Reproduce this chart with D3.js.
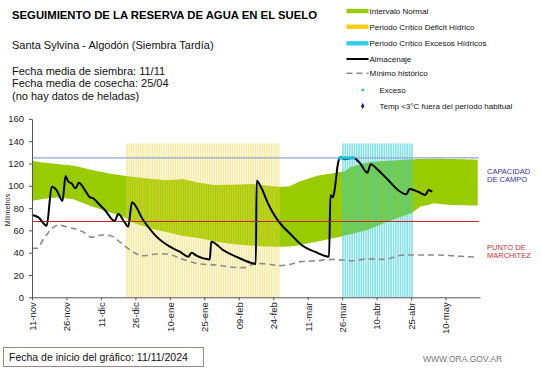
<!DOCTYPE html>
<html><head><meta charset="utf-8">
<script src="https://cdn.jsdelivr.net/npm/d3@7"></script>
<style>
body{margin:0;background:#fff;}
svg{display:block;font-family:"Liberation Sans",Arial,sans-serif;}
</style></head>
<body><svg id="c" width="541" height="368"></svg>
<script>
// ---------- DATA ----------
const tickDays   = [0,15,30,45,60,75,90,105,120,135,150,165,180];
const tickLabels = ["11-nov","26-nov","11-dic","26-dic","10-ene","25-ene","09-feb","24-feb","11-mar","26-mar","10-abr","25-abr","10-may"];
const yTicks = [0,20,40,60,80,100,120,140,160];

const capacidadCampo = 125;
const puntoMarchitez = 68;
const stripeTop = 138;

// Intervalo normal (upper / lower)
const upperDays = [0,4,11,19,26,33,40,50,58,66,72,79,88,96,104,108,112,117,124,131,136,139,146,153,160,168,175,183,194];
const upperVals = [122.3,121,119.5,117.8,114.2,111.2,109,106.5,105,106,103,100.7,101,101.6,99.8,99,99.5,104.3,109,111.2,113,117,121,122.2,123.1,124,124.3,124,123.4];
const lowerDays = [0,6,11,18,26,33,40,44,51,58,66,73,80,87,95,102,108,112,117,124,131,139,146,153,160,165,169,175,182,194];
const lowerVals = [86.5,88.5,89.5,88,81.5,77,72,67,62,58.8,55,52.9,49.9,47.8,46.3,45.5,45.4,45.5,46.9,49.9,52.9,56.8,60.4,66.4,71.7,75.3,81.3,84.3,82.8,82.2];

// Minimo historico
const minDays = [0,2,5.7,11.4,15.8,22,26,30.3,34.6,38,40.4,43.3,48.4,54,58.5,65.8,73,80,87.5,92,97.7,102,108,113,117,124,131.7,139,146,153.5,160.7,168,175,182.5,190,194];
const minVals = [44,44,54.4,64.8,62.8,58.9,53.8,55.9,55,50,46,41.5,37.3,38.8,38.8,34,29.9,29,26.9,26.6,30.5,29.9,28.4,29.9,32,32.8,34,32.8,34.4,34,37.7,38,38,37.3,36.4,35.9];

// Almacenaje
const almDays = [0,2.8,6.4,8.6,10.7,13.3,14.6,15.8,17.2,19,20.4,23,25.2,26.7,28.8,31.7,36,37.5,40.4,41.9,43.5,48.4,54.2,60,64.3,68,69.4,71.6,77.4,78,83.2,90.4,96,97.4,97.8,99.9,102.7,106.4,109.3,112.9,117.3,123,129.3,129.9,131,131.7,133.2,134.3,136,139.7,142.6,146,147.4,150.6,155,159.3,163,164.3,168,171.2,172.6,174.2];
const almVals = [73.8,71.7,64.2,99.2,96.2,86.6,108.8,103.7,102.2,97.7,102.8,96.2,89.7,88.8,84.3,78.3,68.4,74.7,66.9,63.3,85.3,69.3,54.4,45.4,40.9,36.4,40,37.3,34,49.9,42.4,35,30.5,29.9,104.6,97.8,84.3,70.8,63.3,55.9,46.9,40.9,36.4,91.7,89.7,96.2,120.2,125.5,123.8,125.2,120.7,111.8,119.3,114.2,105.2,96.2,92.4,97.1,94.7,91.7,96.2,94.7];

// Exceso points
const excesoDays = [134,135,136,137,138,139,140];
const excesoVals = [125,125,125,125,125,125,125];

// Periodos criticos (days)
const deficitDays = d3.range(41,108);
const excesoPerDays = d3.range(135,166);

const legendItems = ["Intervalo Normal","Periodo Crítico Déficit Hídrico","Periodo Crítico Excesos Hídricos","Almacenaje","Mínimo histórico","Exceso","Temp <3°C fuera del período habitual"];

// ---------- DRAW ----------
const svg = d3.select("#c");
const x = d3.scaleLinear().domain([0,195]).range([32,480]);
const y = d3.scaleLinear().domain([0,160]).range([297.3,118.9]);

const toPts = (ds,vs)=>ds.map((d,i)=>[d,vs[i]]);

// green band
const lowerInterp = d3.scaleLinear().domain(lowerDays).range(lowerVals);
const upperInterp = d3.scaleLinear().domain(upperDays).range(upperVals);
const bandDays = d3.range(0,194.5,0.5).concat([194]);
svg.append("path")
  .attr("d", d3.area().x(d=>x(d)).y0(d=>y(lowerInterp(d))).y1(d=>y(upperInterp(d))).curve(d3.curveMonotoneX)(bandDays))
  .attr("fill","#99cc00");

// stripes
const bw = 1.6;
svg.append("g").selectAll("rect").data(deficitDays).join("rect")
  .attr("x",d=>x(d)).attr("width",bw)
  .attr("y",y(stripeTop)).attr("height",y(0)-y(stripeTop))
  .attr("fill","#f0d84a").attr("opacity",0.5);
svg.append("g").selectAll("rect").data(excesoPerDays).join("rect")
  .attr("x",d=>x(d)).attr("width",bw)
  .attr("y",y(stripeTop)).attr("height",y(0)-y(stripeTop))
  .attr("fill","#33ccdd").attr("opacity",0.6);

// reference lines
svg.append("line").attr("x1",x(0)).attr("x2",x(194.5)).attr("y1",y(capacidadCampo)).attr("y2",y(capacidadCampo))
  .attr("stroke","#8fa8d0").attr("stroke-width",1.2);
svg.append("line").attr("x1",x(0)).attr("x2",x(194.5)).attr("y1",y(puntoMarchitez)).attr("y2",y(puntoMarchitez))
  .attr("stroke","#cc2222").attr("stroke-width",1);

// min historico
svg.append("path")
  .attr("d", d3.line().x(d=>x(d[0])).y(d=>y(d[1])).curve(d3.curveMonotoneX)(toPts(minDays,minVals)))
  .attr("fill","none").attr("stroke","#8c8c8c").attr("stroke-width",1.6).attr("stroke-dasharray","6,4");

// almacenaje
svg.append("path")
  .attr("d", d3.line().x(d=>x(d[0])).y(d=>y(d[1])).curve(d3.curveMonotoneX)(toPts(almDays,almVals)))
  .attr("fill","none").attr("stroke","#000").attr("stroke-width",2).attr("stroke-linejoin","round");

// exceso points
svg.append("g").selectAll("circle").data(toPts(excesoDays,excesoVals)).join("circle")
  .attr("cx",d=>x(d[0])).attr("cy",d=>y(d[1])).attr("r",1.8).attr("fill","#22bbdd");

// axes
const yAxis = svg.append("g").attr("transform",`translate(${x(0)},0)`)
  .call(d3.axisLeft(y).tickValues(yTicks).tickSize(3).tickPadding(5).tickSizeOuter(0));
yAxis.select(".domain").attr("stroke","#555");
yAxis.selectAll(".tick line").attr("stroke","#555");
yAxis.selectAll("text").attr("font-size","9.5px").attr("fill","#222").style("font-family","Liberation Sans, Arial");

const xAxis = svg.append("g").attr("transform",`translate(0,${y(0)})`)
  .call(d3.axisBottom(x).tickValues(tickDays).tickFormat((d,i)=>tickLabels[i]).tickSize(3).tickSizeOuter(0));
xAxis.select(".domain").attr("stroke","#555");
xAxis.selectAll(".tick line").attr("stroke","#555");
xAxis.selectAll("text").attr("font-size","9.5px").attr("fill","#222").style("font-family","Liberation Sans, Arial")
  .attr("text-anchor","end").attr("transform","rotate(-90)").attr("x",-5).attr("y",0).attr("dy","0.35em");

// y label
svg.append("text").attr("transform","translate(10,210) rotate(-90)").attr("text-anchor","middle")
  .attr("font-size","7px").attr("fill","#222").text("Milímetros");

// titles
svg.append("text").attr("x",12).attr("y",18.5).attr("font-size","10.5px").attr("font-weight","bold")
  .attr("textLength",305).attr("lengthAdjust","spacingAndGlyphs").text("SEGUIMIENTO DE LA RESERVA DE AGUA  EN EL SUELO");
svg.append("text").attr("x",12).attr("y",49).attr("font-size","11px").attr("fill","#111").text("Santa Sylvina  - Algodón (Siembra Tardía)");
["Fecha media de siembra: 11/11","Fecha media de cosecha: 25/04","(no hay  datos de heladas)"].forEach((t,i)=>{
  svg.append("text").attr("x",12).attr("y",74.5+i*12.5).attr("font-size","11px").attr("fill","#111").text(t);
});

// legend
const lg = svg.append("g").attr("font-size","8px").attr("fill","#111");
const ly = [11,26.7,43.3,59,73.3,90,106];
[["#99cc00"],["#ffcc00"],["#33ccee"]].forEach((c,i)=>{
  lg.append("rect").attr("x",346.5).attr("y",ly[i]-2.2).attr("width",22).attr("height",4.4).attr("fill",c[0]);
});
lg.append("line").attr("x1",346.5).attr("x2",368.5).attr("y1",ly[3]).attr("y2",ly[3]).attr("stroke","#000").attr("stroke-width",2);
lg.append("line").attr("x1",346.5).attr("x2",368.5).attr("y1",ly[4]).attr("y2",ly[4]).attr("stroke","#8c8c8c").attr("stroke-width",1.6).attr("stroke-dasharray","6,4");
lg.append("rect").attr("x",361.5).attr("y",ly[5]-1.2).attr("width",2.4).attr("height",2.4).attr("fill","#22bbdd");
lg.append("path").attr("d",d3.symbol(d3.symbolDiamond,10)()).attr("transform",`translate(362.7,${ly[6]})`).attr("fill","#1a1a8c");
legendItems.forEach((t,i)=>{
  lg.append("text").attr("x",i<5?369.5:379.5).attr("y",ly[i]+3).text(t);
});

// right labels
const rl = svg.append("g").attr("font-size","7.5px");
rl.append("text").attr("x",487).attr("y",173.5).attr("fill","#3333aa").text("CAPACIDAD");
rl.append("text").attr("x",487).attr("y",182).attr("fill","#3333aa").text("DE  CAMPO");
rl.append("text").attr("x",487).attr("y",249.5).attr("fill","#cc3333").text("PUNTO  DE");
rl.append("text").attr("x",487).attr("y",258).attr("fill","#cc3333").text("MARCHITEZ");

// bottom box
svg.append("rect").attr("x",3.5).attr("y",347.5).attr("width",200).attr("height",19).attr("fill","#fff").attr("stroke","#a08888").attr("stroke-width",1);
svg.append("text").attr("x",9).attr("y",361).attr("font-size","10.5px").attr("fill","#111").text("Fecha de inicio del gráfico:  11/11/2024");
svg.append("text").attr("x",423).attr("y",362).attr("font-size","8.5px").attr("fill","#777").text("WWW.ORA.GOV.AR");
</script></body></html>
